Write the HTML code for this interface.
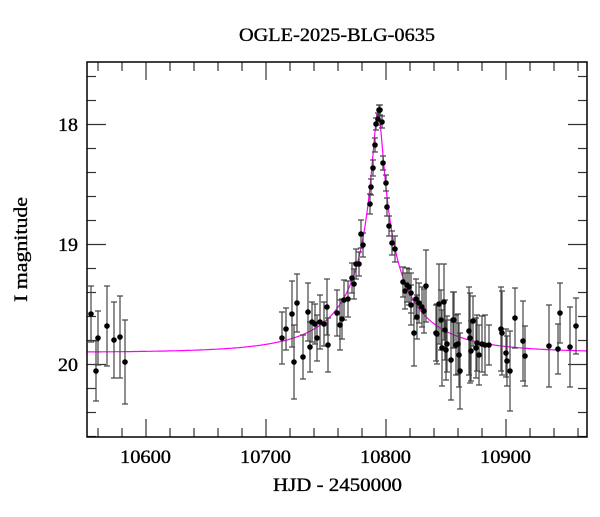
<!DOCTYPE html>
<html><head><meta charset="utf-8"><style>
html,body{margin:0;padding:0;background:#fff;}
svg text{font-family:"Liberation Serif",serif;fill:#000;stroke:#000;stroke-width:0.35;}
</style></head><body>
<svg id="s" width="600" height="512" viewBox="0 0 600 512" xmlns="http://www.w3.org/2000/svg">
<rect x="0" y="0" width="600" height="512" fill="#fff"/>
<text x="239" y="41" font-size="19" textLength="196" lengthAdjust="spacingAndGlyphs">OGLE-2025-BLG-0635</text>
<text x="273" y="491" font-size="19" textLength="129" lengthAdjust="spacingAndGlyphs">HJD - 2450000</text>
<text transform="translate(27,302) rotate(-90)" font-size="19" textLength="105" lengthAdjust="spacingAndGlyphs">I magnitude</text>
<g font-size="19">
<text x="120" y="463" textLength="51" lengthAdjust="spacingAndGlyphs">10600</text>
<text x="240" y="463" textLength="51" lengthAdjust="spacingAndGlyphs">10700</text>
<text x="360" y="463" textLength="51" lengthAdjust="spacingAndGlyphs">10800</text>
<text x="480" y="463" textLength="51" lengthAdjust="spacingAndGlyphs">10900</text>
</g>
<g font-size="19">
<text x="58" y="131" textLength="20" lengthAdjust="spacingAndGlyphs">18</text>
<text x="58" y="251" textLength="20" lengthAdjust="spacingAndGlyphs">19</text>
<text x="58" y="371" textLength="20" lengthAdjust="spacingAndGlyphs">20</text>
</g>
<g id="ticks" stroke="#333" stroke-width="1.2"></g>
<path id="model" fill="none" stroke="#ff00ff" stroke-width="1.2"/>
<g id="err" stroke="#444" stroke-width="1.2"></g>
<g id="dots" fill="#000"></g>
<rect x="87" y="62" width="500" height="375" fill="none" stroke="#000" stroke-width="1.5"/>
</svg>
<script>
var NS="http://www.w3.org/2000/svg";
function el(p,t,a){var e=document.createElementNS(NS,t);for(var k in a)e.setAttribute(k,a[k]);document.getElementById(p).appendChild(e);}
for(var d=10560;d<=10960;d+=20){var x=146+(d-10600)*1.2;if(x<87||x>587)continue;var L=(d%100==0)?18:9;
el("ticks","line",{x1:x,y1:437,x2:x,y2:437-L});el("ticks","line",{x1:x,y1:62,x2:x,y2:62+L});}
for(var m=17.6;m<=20.61;m+=0.2){var y=124.5+(m-18)*120;if(y<62||y>437)continue;var mm=Math.round(m*10)/10;var L=(Math.abs(mm-Math.round(mm))<0.01)?19:9;
el("ticks","line",{x1:87,y1:y,x2:87+L,y2:y});el("ticks","line",{x1:587,y1:y,x2:587-L,y2:y});}
var p="";for(var x=87;x<=587;x+=0.5){var d=10600+(x-146)/1.2;var t=(d-10793.3)/78;var u=Math.sqrt(0.0025+t*t);
var A=(u*u+2)/(u*Math.sqrt(u*u+4));var Ao=0.28*A+0.72;var mag=19.9-2.5*Math.log10(Ao);var y=124.5+(mag-18)*120;
p+=(p?"L":"M")+x.toFixed(1)+","+y.toFixed(1);}
document.getElementById("model").setAttribute("d",p);
var pts=[[91,314,28],[96,371,30],[98,338,27],[107,326,40],[114,340,38],[120,337,41],[125,362,42],
[282,338,26],[286,329,21],[292,314,33],[294,362,37],[297,303,29],[303,357,22],[308,312,29],[310,347,25],[312,322,20],[315,324,20],[317,338,23],[320,322,27],[324,324,22],[327,307,28],[328,345,27],
[337,313,23],[340,325,25],[342,319,20],[344,300,20],[348,299,18],[352,278,15],[354,284,15],[356,264,15],[359,264,12],[361,234,14],[363,245,12],
[370,204,10],[371,187,8],[373,168,8],[375,145,7],[376,124,6],[378,119,6],[379,110,5],[380,110,5],[382,122,6],[383,163,7],[386,183,8],[387,207,9],[389,226,10],[392,243,12],[395,249,13],
[403,282,15],[405,291,18],[407,285,17],[409,287,18],[411,293,20],[411,305,20],[414,333,33],[416,299,20],[417,317,22],[419,303,20],[422,307,20],[424,311,22],[426,286,36],
[436,333,28],[437,334,30],[439,304,40],[441,320,30],[442,348,38],[444,302,38],[445,330,30],[446,350,30],[447,344,28],[451,360,40],[453,320,28],[454,320,28],[456,345,30],[458,344,30],[459,355,32],[460,371,38],
[469,331,44],[470,338,45],[471,351,30],[473,321,25],[476,348,30],[477,343,28],[479,355,30],[482,344,28],[485,345,30],[489,345,20],
[501,329,42],[502,333,42],[506,353,24],[507,361,25],[510,371,40],[515,318,30],[523,341,40],[525,356,30],[549,346,41],[558,349,25],[560,313,30],[570,347,40],[576,326,28]];
pts.forEach(function(q){var x=q[0],y=q[1],e=q[2];
el("err","line",{x1:x,y1:y-e,x2:x,y2:y+e});
el("err","line",{x1:x-3,y1:y-e,x2:x+3,y2:y-e});
el("err","line",{x1:x-3,y1:y+e,x2:x+3,y2:y+e});
el("dots","circle",{cx:x,cy:y,r:2.8});});
</script>
</body></html>
